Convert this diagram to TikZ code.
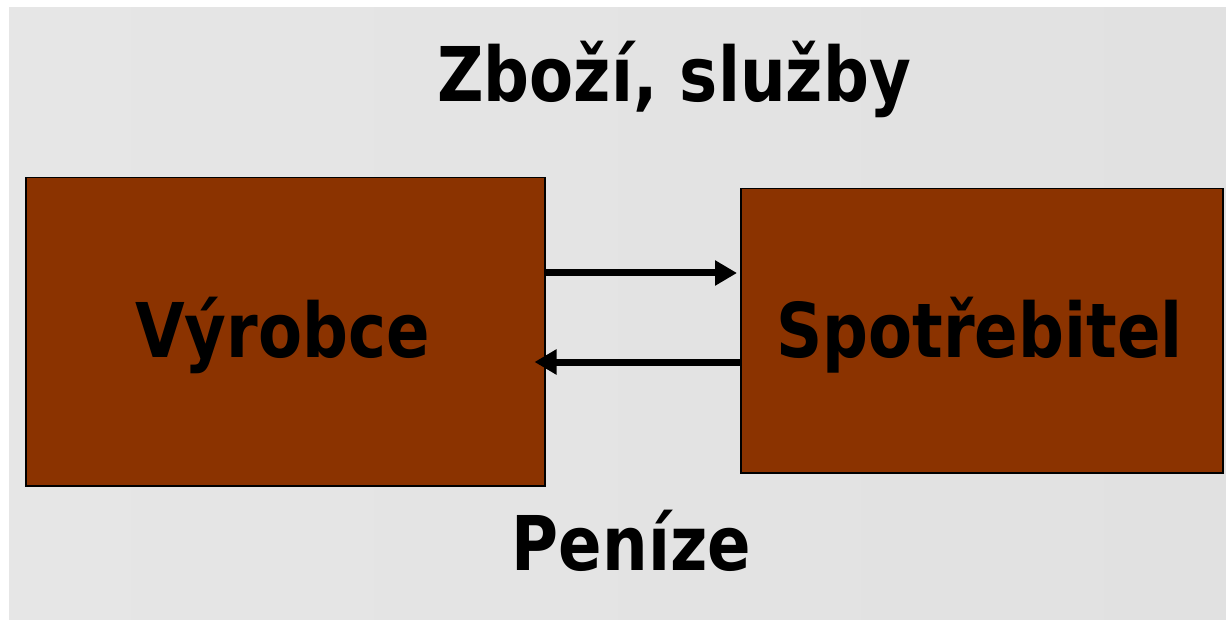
\documentclass[tikz,border=0pt]{standalone}
\usepackage{fontspec}
\newfontfamily\labelfont[FakeStretch=0.85]{DejaVu Sans}
\usetikzlibrary{arrows.meta,calc}
\definecolor{boxbrown}{RGB}{139,51,0}
\definecolor{panelgrey}{RGB}{230,230,230}
\definecolor{panelgreydark}{RGB}{225,225,225}
\tikzset{
  block/.style={draw=black, line width=1.5pt, fill=boxbrown, inner sep=0pt,
    anchor=north west, minimum width=#1},
  caption/.style={inner sep=0pt, anchor=base,
    font=\labelfont\bfseries\fontsize{75.5}{80}\selectfont},
  flow/.style={line width=7pt, -{Triangle[length=22pt,width=24pt]}}
}
\begin{document}
\begin{tikzpicture}[x=1pt,y=-1pt]
  \useasboundingbox (0,0) rectangle (1226,620);
  % light panel behind the diagram
  \shade[left color=panelgrey, right color=panelgreydark] (9,8) rectangle (1226,620);
  % the two parties
  \node[block=519pt, minimum height=308pt] (vyr) at (25,177) {};
  \node[block=482pt, minimum height=284pt] (spot) at (740,188) {};
  \node[caption] (vyrtext) at (282.5,357) {Výrobce};
  \node[caption] (spottext) at (979.5,357) {Spotřebitel};
  % flows between them
  \draw[flow, shorten >=3pt] (vyr.east |- 0,273) -- (spot.west |- 0,273);
  \draw[flow, shorten >=-11pt] (spot.west |- 0,362) -- (vyr.east |- 0,362);
  % flow labels
  \node[caption] (goods) at (674,102) {Zboží, služby};
  \node[caption] (money) at (631.5,570) {Peníze};
\end{tikzpicture}
\end{document}
